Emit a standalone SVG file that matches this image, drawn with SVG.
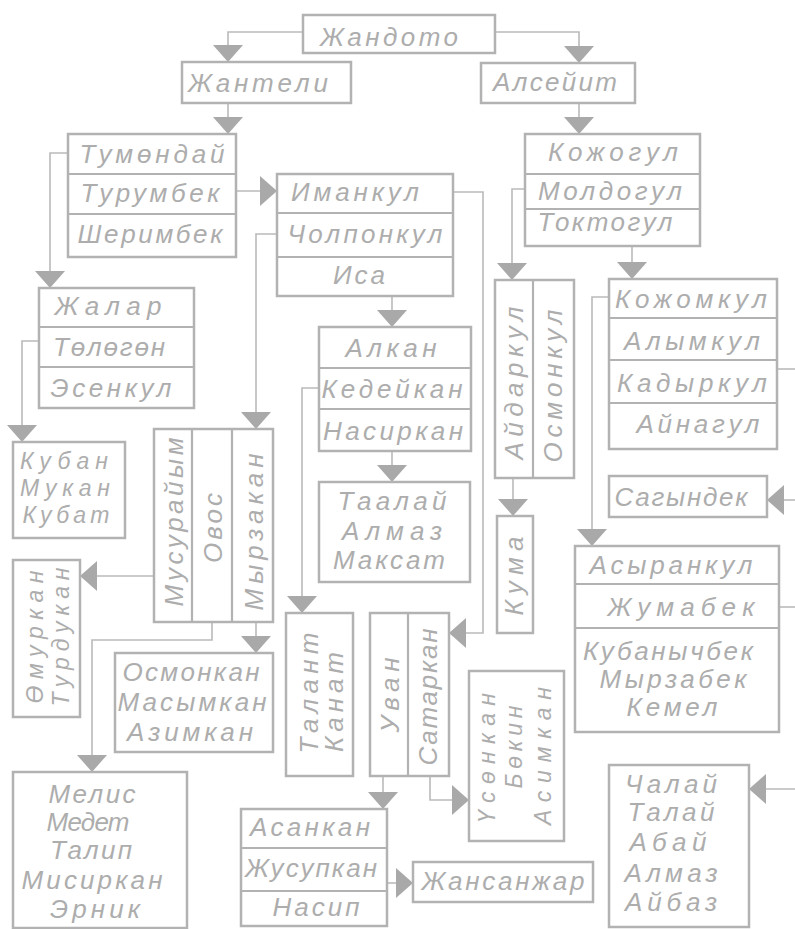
<svg xmlns="http://www.w3.org/2000/svg" width="795" height="929" viewBox="0 0 795 929">
<defs>
<style>
.bx{fill:none;stroke:#b2b2b2;stroke-width:2.5}
.sp{fill:none;stroke:#b2b2b2;stroke-width:2.2}
.c{fill:none;stroke:#bababa;stroke-width:1.6}
.t{font-family:"Liberation Sans","DejaVu Sans",sans-serif;font-style:italic;font-size:26px;fill:#adadad;text-anchor:middle}
.s{font-size:23px}
</style>
<marker id="ar" viewBox="0 0 17 30" refX="17" refY="15" markerWidth="17" markerHeight="30" markerUnits="userSpaceOnUse" orient="auto">
<path d="M0,0 L17,15 L0,30 z" fill="#a9a9a9"/>
</marker>
</defs>
<rect width="795" height="929" fill="#ffffff"/>
<g id="connectors">
<path class="c" d="M303,32 H228 V62" marker-end="url(#ar)"/>
<path class="c" d="M495,32 H579 V63" marker-end="url(#ar)"/>
<path class="c" d="M228,103 V134" marker-end="url(#ar)"/>
<path class="c" d="M579,103 V134" marker-end="url(#ar)"/>
<path class="c" d="M68,153 H50 V288" marker-end="url(#ar)"/>
<path class="c" d="M236,191 H277" marker-end="url(#ar)"/>
<path class="c" d="M39,341 H22 V442" marker-end="url(#ar)"/>
<path class="c" d="M277,234 H256 V429" marker-end="url(#ar)"/>
<path class="c" d="M453,192 H483 V633 H449" marker-end="url(#ar)"/>
<path class="c" d="M392,296 V327" marker-end="url(#ar)"/>
<path class="c" d="M319,388 H302 V613" marker-end="url(#ar)"/>
<path class="c" d="M392,451 V482" marker-end="url(#ar)"/>
<path class="c" d="M525,189 H512 V280" marker-end="url(#ar)"/>
<path class="c" d="M632,246 V279" marker-end="url(#ar)"/>
<path class="c" d="M609,297 H592 V546" marker-end="url(#ar)"/>
<path class="c" d="M777,369 H795"/>
<path class="c" d="M795,500 H767" marker-end="url(#ar)"/>
<path class="c" d="M513,478 V516" marker-end="url(#ar)"/>
<path class="c" d="M779,607 H795"/>
<path class="c" d="M795,789 H749" marker-end="url(#ar)"/>
<path class="c" d="M154,576 H80" marker-end="url(#ar)"/>
<path class="c" d="M212,622 V640 H92 V772" marker-end="url(#ar)"/>
<path class="c" d="M256,622 V653" marker-end="url(#ar)"/>
<path class="c" d="M383,776 V809" marker-end="url(#ar)"/>
<path class="c" d="M430,776 V800 H469" marker-end="url(#ar)"/>
<path class="c" d="M387,883 H413" marker-end="url(#ar)"/>
</g>
<g id="n_jandoto"><rect class="bx" x="303" y="15" width="192" height="38"/><text class="t" x="389" y="46" textLength="138">Жандото</text></g>
<g id="n_janteli"><rect class="bx" x="182" y="62" width="169" height="41"/><text class="t" x="258" y="92" textLength="140">Жантели</text></g>
<g id="n_alseyit"><rect class="bx" x="481" y="63" width="154" height="40"/><text class="t" x="555" y="91" textLength="124">Алсейит</text></g>
<g id="n_tumondai"><rect class="bx" x="68" y="134" width="168" height="123"/><path class="sp" d="M68,174 H236 M68,214 H236"/>
<text class="t" x="152" y="163" textLength="145">Тумөндай</text>
<text class="t" x="150" y="202" textLength="139">Турумбек</text>
<text class="t" x="150" y="243" textLength="145">Шеримбек</text></g>
<g id="n_imankul"><rect class="bx" x="277" y="174" width="176" height="122"/><path class="sp" d="M277,213 H453 M277,257 H453"/>
<text class="t" x="355" y="201" textLength="128">Иманкул</text>
<text class="t" x="365" y="243" textLength="155">Чолпонкул</text>
<text class="t" x="359" y="284" textLength="52">Иса</text></g>
<g id="n_alkan"><rect class="bx" x="319" y="327" width="152" height="124"/><path class="sp" d="M319,368 H471 M319,409 H471"/>
<text class="t" x="391" y="357" textLength="91">Алкан</text>
<text class="t" x="392" y="398" textLength="141">Кедейкан</text>
<text class="t" x="393" y="440" textLength="140">Насиркан</text></g>
<g id="n_taalai"><rect class="bx" x="319" y="482" width="151" height="100"/>
<text class="t" x="392" y="510" textLength="109">Таалай</text>
<text class="t" x="392" y="540" textLength="100">Алмаз</text>
<text class="t" x="389" y="569" textLength="112">Максат</text></g>
<g id="n_kojogul"><rect class="bx" x="525" y="134" width="175" height="112"/><path class="sp" d="M525,174 H700 M525,209 H700"/>
<text class="t" x="613" y="161" textLength="130">Кожогул</text>
<text class="t" x="610" y="200" textLength="144">Молдогул</text>
<text class="t" x="605" y="231" textLength="135">Токтогул</text></g>
<g id="n_aidarkul"><rect class="bx" x="495" y="280" width="79" height="198"/><path class="sp" d="M533,280 V478"/>
<text class="t" transform="translate(523,383) rotate(-90)" textLength="153">Айдаркул</text>
<text class="t" transform="translate(562,386) rotate(-90)" textLength="153">Осмонкул</text></g>
<g id="n_kojomkul"><rect class="bx" x="609" y="279" width="168" height="170"/><path class="sp" d="M609,318 H777 M609,360 H777 M609,403 H777"/>
<text class="t" x="691" y="308" textLength="152">Кожомкул</text>
<text class="t" x="692" y="350" textLength="136">Алымкул</text>
<text class="t" x="692" y="392" textLength="150">Кадыркул</text>
<text class="t" x="698" y="433" textLength="123">Айнагул</text></g>
<g id="n_sagyndek"><rect class="bx" x="609" y="476" width="158" height="41"/><text class="t" x="681" y="506" textLength="133">Сагындек</text></g>
<g id="n_kuma"><rect class="bx" x="497" y="516" width="36" height="117"/><text class="t" transform="translate(523,576) rotate(-90)" textLength="79">Кума</text></g>
<g id="n_asyrankul"><rect class="bx" x="575" y="546" width="204" height="186"/><path class="sp" d="M575,584 H779 M575,628 H779"/>
<text class="t" x="671" y="574" textLength="163">Асыранкул</text>
<text class="t" x="681" y="616" textLength="147">Жумабек</text>
<text class="t" x="668" y="660" textLength="170">Кубанычбек</text>
<text class="t" x="673" y="688" textLength="147">Мырзабек</text>
<text class="t" x="672" y="716" textLength="91">Кемел</text></g>
<g id="n_chalai"><rect class="bx" x="609" y="765" width="140" height="162"/>
<text class="t" x="671" y="793" textLength="92">Чалай</text>
<text class="t" x="671" y="821" textLength="87">Талай</text>
<text class="t" x="668" y="851" textLength="77">Абай</text>
<text class="t" x="671" y="882" textLength="93">Алмаз</text>
<text class="t" x="671" y="911" textLength="92">Айбаз</text></g>
<g id="n_jalar"><rect class="bx" x="39" y="288" width="155" height="120"/><path class="sp" d="M39,327 H194 M39,367 H194"/>
<text class="t" x="108" y="315" textLength="107">Жалар</text>
<text class="t" x="109" y="356" textLength="112">Төлөгөн</text>
<text class="t" x="111" y="397" textLength="121">Эсенкул</text></g>
<g id="n_kuban"><rect class="bx" x="13" y="442" width="112" height="96"/>
<text class="t s" x="64" y="469" textLength="88">Кубан</text>
<text class="t s" x="65" y="496" textLength="90">Мукан</text>
<text class="t s" x="66" y="523" textLength="87">Кубат</text></g>
<g id="n_musuraiym"><rect class="bx" x="154" y="429" width="119" height="193"/><path class="sp" d="M192,429 V622 M232,429 V622"/>
<text class="t" transform="translate(183,522) rotate(-90)" textLength="169">Мусурайым</text>
<text class="t" transform="translate(222,528) rotate(-90)" textLength="70">Овос</text>
<text class="t" transform="translate(263,532) rotate(-90)" textLength="157">Мырзакан</text></g>
<g id="n_omurkan"><rect class="bx" x="13" y="560" width="67" height="157"/>
<text class="t s" transform="translate(43,637) rotate(-90)" textLength="133">Өмуркан</text>
<text class="t s" transform="translate(69,637) rotate(-90)" textLength="139">Турдукан</text></g>
<g id="n_osmonkan"><rect class="bx" x="115" y="653" width="158" height="99"/>
<text class="t" x="191" y="681" textLength="137">Осмонкан</text>
<text class="t" x="192" y="711" textLength="149">Масымкан</text>
<text class="t" x="190" y="741" textLength="126">Азимкан</text></g>
<g id="n_melis"><rect class="bx" x="13" y="772" width="174" height="156"/>
<text class="t" x="92" y="803" textLength="87">Мелис</text>
<text class="t" x="88" y="831" textLength="83">Медет</text>
<text class="t" x="91" y="859" textLength="82">Талип</text>
<text class="t" x="92" y="889" textLength="141">Мисиркан</text>
<text class="t" x="95" y="918" textLength="90">Эрник</text></g>
<g id="n_talant"><rect class="bx" x="286" y="613" width="67" height="163"/>
<text class="t" transform="translate(318,693) rotate(-90)" textLength="121">Талант</text>
<text class="t" transform="translate(343,702) rotate(-90)" textLength="100">Канат</text></g>
<g id="n_uvan"><rect class="bx" x="370" y="613" width="79" height="163"/><path class="sp" d="M408,613 V776"/>
<text class="t" transform="translate(399,695) rotate(-90)" textLength="75">Уван</text>
<text class="t" transform="translate(437,697) rotate(-90)" textLength="137">Сатаркан</text></g>
<g id="n_usonkan"><rect class="bx" x="469" y="671" width="95" height="170"/>
<text class="t s" transform="translate(495,758) rotate(-90)" textLength="130">Үсөнкан</text>
<text class="t s" transform="translate(522,747) rotate(-90)" textLength="83">Бөкин</text>
<text class="t s" transform="translate(551,756) rotate(-90)" textLength="138">Асимкан</text></g>
<g id="n_asankan"><rect class="bx" x="241" y="809" width="146" height="117"/><path class="sp" d="M241,848 H387 M241,891 H387"/>
<text class="t" x="310" y="836" textLength="120">Асанкан</text>
<text class="t" x="311" y="877" textLength="132">Жусупкан</text>
<text class="t" x="316" y="916" textLength="87">Насип</text></g>
<g id="n_jansanjar"><rect class="bx" x="413" y="862" width="180" height="40"/><text class="t" x="503" y="890" textLength="163">Жансанжар</text></g>
</svg>
